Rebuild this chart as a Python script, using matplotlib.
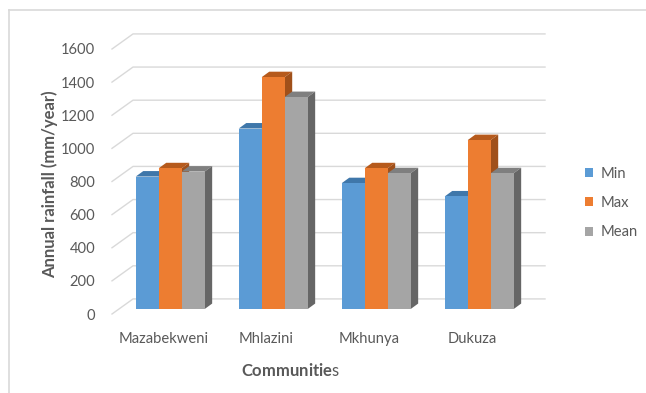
import matplotlib
matplotlib.use("Agg")
import matplotlib.pyplot as plt
from matplotlib.patches import Polygon
from matplotlib.lines import Line2D

plt.rcParams['font.family'] = ['Lato', 'DejaVu Sans']
plt.rcParams['mathtext.fontset'] = 'custom'
plt.rcParams['mathtext.rm'] = 'Lato'
plt.rcParams['mathtext.bf'] = 'Lato:bold'

communities = ["Mazabekweni", "Mhlazini", "Mkhunya", "Dukuza"]
series_names = ["Min", "Max", "Mean"]
rain_min = [800, 1090, 760, 680]
rain_max = [850, 1400, 850, 1020]
rain_mean = [830, 1280, 820, 820]
yticks = [0, 200, 400, 600, 800, 1000, 1200, 1400, 1600]

colors = ['#5B9BD5', '#ED7D31', '#A5A5A5']
tops = ['#3F77AA', '#B65A1C', '#7F7F7F']
sides = ['#2F6494', '#A0501A', '#666666']
grid_c = '#D9D9D9'
text_c = '#595959'

W, H = 646, 393
fig = plt.figure(figsize=(W / 100, H / 100), dpi=100)
ax = fig.add_axes([112 / W, 79 / H, 412 / W, 265 / H])
ax.set_xlim(-0.5, 3.5)
ax.set_ylim(0, 1600)
for sp in ax.spines.values():
    sp.set_visible(False)

# wall depth (x in category units, y in mm)
wdx, wdy = 0.204, 91
for v in yticks:
    ax.plot([-0.5, -0.5 + wdx, 3.5 + wdx], [v, v + wdy, v + wdy],
            color=grid_c, lw=1, clip_on=False, zorder=1)

# bar geometry
bw = 0.223
shift = 0.065
base = 30
ddx, ddy = 0.073, 33

data = [rain_min, rain_max, rain_mean]
for j, vals in enumerate(data):
    xs = [i + shift + (j - 1) * bw for i in range(len(communities))]
    ax.bar(xs, vals, width=bw, bottom=base, color=colors[j],
           label=series_names[j], zorder=3 + 2 * j, linewidth=0)
    for x, v in zip(xs, vals):
        xl, xr = x - bw / 2, x + bw / 2
        top = base + v
        ax.add_patch(Polygon([(xl, top), (xr, top), (xr + ddx, top + ddy),
                              (xl + ddx, top + ddy)], closed=True,
                             facecolor=tops[j], edgecolor='none',
                             zorder=2 + 2 * j, clip_on=False))
        ax.add_patch(Polygon([(xr, base), (xr + ddx, base + ddy),
                              (xr + ddx, top + ddy), (xr, top)], closed=True,
                             facecolor=sides[j], edgecolor='none',
                             zorder=2 + 2 * j, clip_on=False))

ax.set_yticks(yticks)
ax.set_yticklabels([str(t) for t in yticks])
ax.set_xticks(range(len(communities)))
ax.set_xticklabels(communities)
ax.tick_params(axis='y', length=0, pad=12, labelsize=10.6, labelcolor=text_c)
ax.tick_params(axis='x', length=0, pad=13, labelsize=10.6, labelcolor=text_c)

fig.text(50 / W, 1 - 184 / H, "Annual rainfall (mm/year)", rotation=90,
         ha='center', va='center', fontsize=12, fontweight='bold', color=text_c)
fig.text(291 / W, 1 - 370 / H, r"$\mathbf{Communitie}$s", ha='center',
         va='center', fontsize=12, color=text_c)

ax.legend(loc='center left', bbox_to_anchor=(585 / W, 1 - 203 / H),
          bbox_transform=fig.transFigure, frameon=False, fontsize=10.6,
          labelcolor=text_c, handlelength=0.55, handleheight=0.55,
          handletextpad=0.5, labelspacing=1.05, borderpad=0, borderaxespad=0)

# chart area border (top and left edges)
fig.add_artist(Line2D([9 / W, 1], [1 - 10 / H, 1 - 10 / H], color=grid_c, lw=1.2))
fig.add_artist(Line2D([9 / W, 9 / W], [0, 1 - 10 / H], color=grid_c, lw=1.2))

fig.savefig("out.png", dpi=100)
